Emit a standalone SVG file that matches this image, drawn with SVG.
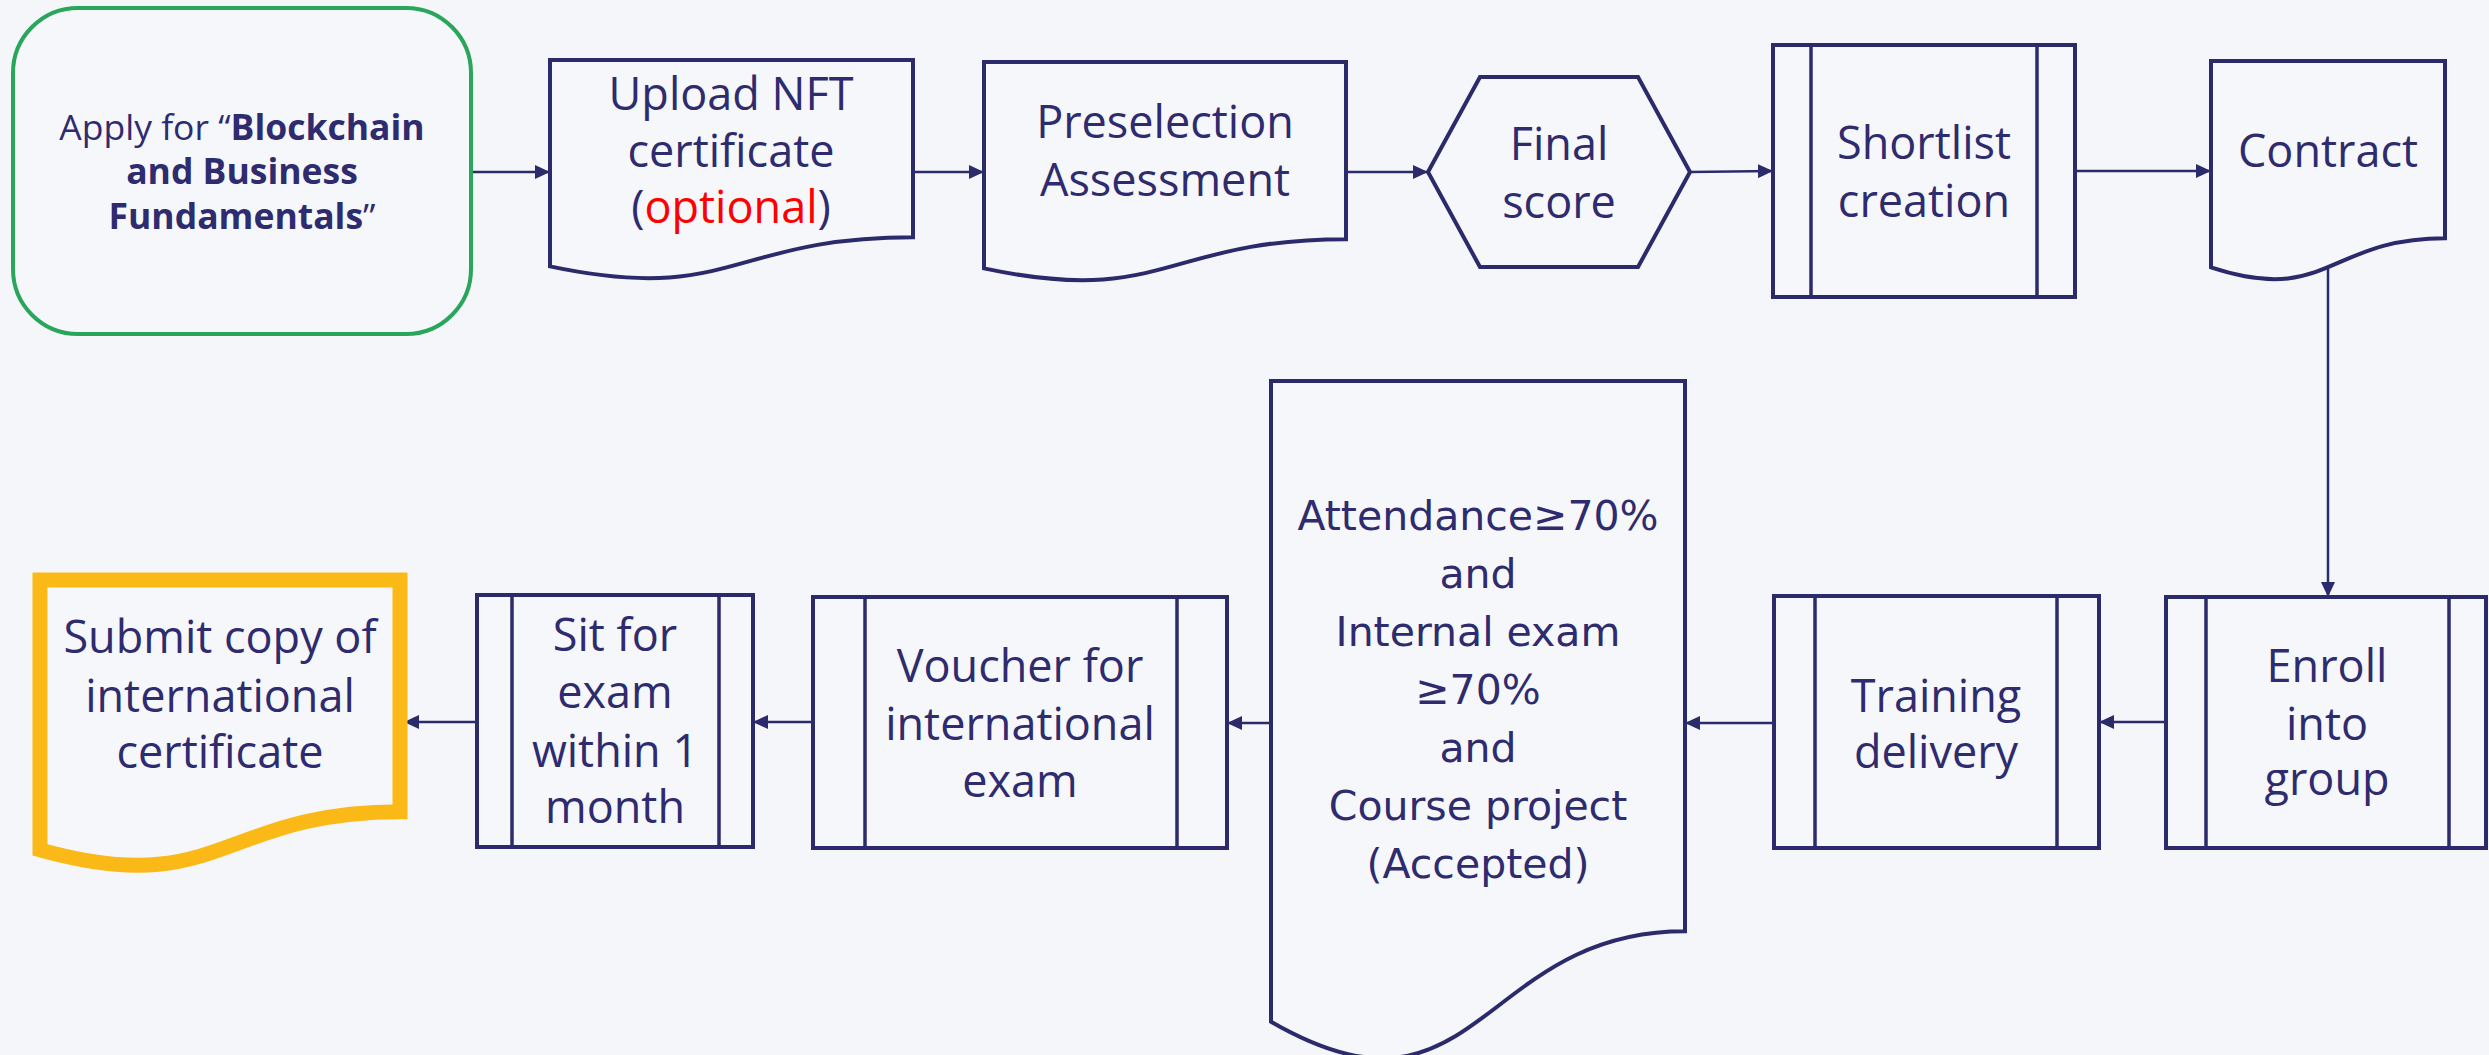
<svg xmlns="http://www.w3.org/2000/svg" width="2489" height="1055" viewBox="0 0 2489 1055">
<style>
.n{fill:#f6f7fa;stroke:#2b2a6b;stroke-width:4;stroke-linejoin:miter}
.in{stroke:#2b2a6b;stroke-width:3.5;fill:none}
.t{font-family:"Open Sans","Noto Sans",sans-serif;font-size:45px;fill:#2e2b6e;text-anchor:middle}
.s{font-family:"Open Sans","Noto Sans",sans-serif;font-size:35.5px;fill:#2e2b6e;text-anchor:middle}
.d{font-family:"DejaVu Sans",sans-serif;font-size:41px;fill:#2e2b6e;text-anchor:middle}
.c{stroke:#2b2a6b;stroke-width:2.5;fill:none;marker-end:url(#ah)}
</style>
<defs>
<marker id="ah" markerUnits="userSpaceOnUse" markerWidth="16" markerHeight="14" refX="15" refY="7" orient="auto">
<path d="M0,0 L15,7 L0,14 Z" fill="#2b2a6b"/>
</marker>
</defs>
<rect width="2489" height="1055" fill="#f5f6f9"/>

<g id="connectors">
<line class="c" x1="471" y1="172" x2="550" y2="172"/>
<line class="c" x1="913" y1="172" x2="984" y2="172"/>
<line class="c" x1="1346" y1="172" x2="1428" y2="172"/>
<line class="c" x1="1690" y1="172" x2="1773" y2="171"/>
<line class="c" x1="2075" y1="171" x2="2211" y2="171"/>
<line class="c" x1="2328" y1="268" x2="2328" y2="597"/>
<line class="c" x1="2166" y1="722" x2="2099" y2="722"/>
<line class="c" x1="1774" y1="723" x2="1685" y2="723"/>
<line class="c" x1="1271" y1="723" x2="1227" y2="723"/>
<line class="c" x1="813" y1="722" x2="753" y2="722"/>
<line class="c" x1="477" y1="722" x2="404" y2="722"/>
</g>

<g id="apply">
<rect x="13" y="8" width="458" height="326" rx="65" ry="65" fill="#f6f7fa" stroke="#2aa65c" stroke-width="4"/>
<text class="s" x="242" y="140">Apply for “<tspan font-weight="bold">Blockchain</tspan></text>
<text class="s" x="242" y="184" font-weight="bold">and Business</text>
<text class="s" x="242" y="229"><tspan font-weight="bold">Fundamentals</tspan>”</text>
</g>

<g id="upload">
<path class="n" d="M550,60 H913 V237.2 C731.5,237.2 731.5,304.8 550,266.4 Z"/>
<text class="t" x="731" y="110">Upload NFT</text>
<text class="t" x="731" y="167">certificate</text>
<text class="t" x="731" y="223">(<tspan fill="#ff0000">optional</tspan>)</text>
</g>

<g id="preselection">
<path class="n" d="M984,62 H1346 V239.2 C1165,239.2 1165,306.8 984,268.4 Z"/>
<text class="t" x="1165" y="138">Preselection</text>
<text class="t" x="1165" y="196">Assessment</text>
</g>

<g id="final">
<polygon class="n" points="1428,172 1480,77 1638,77 1690,172 1638,267 1480,267"/>
<text class="t" x="1559" y="160">Final</text>
<text class="t" x="1559" y="218">score</text>
</g>

<g id="shortlist">
<rect class="n" x="1773" y="45" width="302" height="252"/>
<line class="in" x1="1811" y1="45" x2="1811" y2="297"/>
<line class="in" x1="2037" y1="45" x2="2037" y2="297"/>
<text class="t" x="1924" y="159">Shortlist</text>
<text class="t" x="1924" y="217">creation</text>
</g>

<g id="contract">
<path class="n" d="M2211,61 H2445 V238.2 C2328,238.2 2328,305.8 2211,267.4 Z"/>
<text class="t" x="2328" y="167">Contract</text>
</g>

<g id="enroll">
<rect class="n" x="2166" y="597" width="320" height="251"/>
<line class="in" x1="2206" y1="597" x2="2206" y2="848"/>
<line class="in" x1="2449" y1="597" x2="2449" y2="848"/>
<text class="t" x="2327" y="682">Enroll</text>
<text class="t" x="2327" y="740">into</text>
<text class="t" x="2327" y="795">group</text>
</g>

<g id="training">
<rect class="n" x="1774" y="596" width="325" height="252"/>
<line class="in" x1="1815" y1="596" x2="1815" y2="848"/>
<line class="in" x1="2057" y1="596" x2="2057" y2="848"/>
<text class="t" x="1936" y="712">Training</text>
<text class="t" x="1936" y="768">delivery</text>
</g>

<g id="attendance">
<path class="n" d="M1271,381 H1685 V931.2 C1478,931.2 1478,1140.7 1271,1021.7 Z"/>
<text class="d" x="1478" y="530">Attendance≥70%</text>
<text class="d" x="1478" y="588">and</text>
<text class="d" x="1478" y="646">Internal exam</text>
<text class="d" x="1478" y="704">≥70%</text>
<text class="d" x="1478" y="762">and</text>
<text class="d" x="1478" y="820">Course project</text>
<text class="d" x="1478" y="878">(Accepted)</text>
</g>

<g id="voucher">
<rect class="n" x="813" y="597" width="414" height="251"/>
<line class="in" x1="865" y1="597" x2="865" y2="848"/>
<line class="in" x1="1177" y1="597" x2="1177" y2="848"/>
<text class="t" x="1020" y="682">Voucher for</text>
<text class="t" x="1020" y="740">international</text>
<text class="t" x="1020" y="797">exam</text>
</g>

<g id="sit">
<rect class="n" x="477" y="595" width="276" height="252"/>
<line class="in" x1="512" y1="595" x2="512" y2="847"/>
<line class="in" x1="719" y1="595" x2="719" y2="847"/>
<text class="t" x="615" y="651">Sit for</text>
<text class="t" x="615" y="708">exam</text>
<text class="t" x="615" y="767">within 1</text>
<text class="t" x="615" y="823">month</text>
</g>

<g id="submit">
<path d="M40,580 H400 V811.8 C220,811.8 220,900.1 40,849.9 Z" fill="#f6f7fa" stroke="#fbb917" stroke-width="15"/>
<text class="t" x="220" y="653">Submit copy of</text>
<text class="t" x="220" y="712">international</text>
<text class="t" x="220" y="768">certificate</text>
</g>
</svg>
